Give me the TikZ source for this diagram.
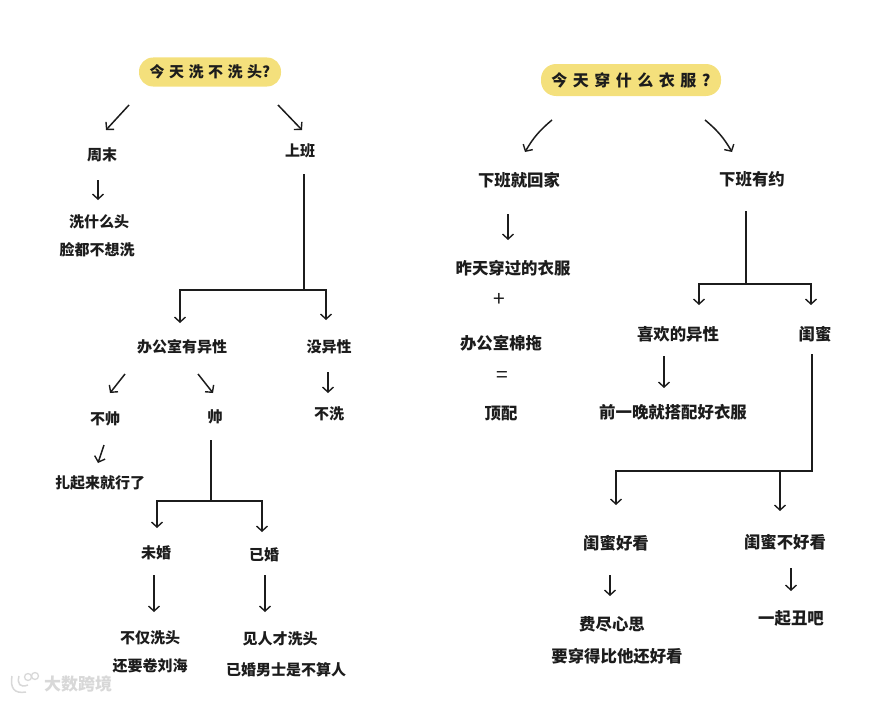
\documentclass[tikz,border=0pt]{standalone}
\usepackage{fontspec}
\usepackage{xcolor}
\setmainfont{Noto Sans CJK SC}
\usetikzlibrary{arrows.meta}
\definecolor{ink}{HTML}{1C1C1C}
\definecolor{pill}{HTML}{F4E07C}
\definecolor{wm}{HTML}{D8D8D8}
\tikzset{
  lab/.style={inner sep=0pt,text=ink,font=\fontsize{15}{15}\selectfont\bfseries},
  labr/.style={lab,font=\fontsize{16.4}{16.4}\selectfont\bfseries},
  sym/.style={inner sep=0pt,text=ink,font=\fontsize{21}{21}\selectfont},
  pillbox/.style={fill=pill,rounded corners=14pt,inner sep=0pt,text=ink,minimum width=142pt,minimum height=29pt,font=\fontsize{15}{15}\selectfont\bfseries},
  arr/.style={draw=ink,line width=1.5pt,-{Straight Barb[length=5pt,width=11pt,line width=1.4pt]}},
  stem/.style={draw=ink,line width=1.5pt},
}
\newcommand{\off}[3]{([shift={(#2,#3)}]#1.center)}
\newcommand{\spA}{\kern4.5pt}
\newcommand{\spB}{\kern5.5pt}
\begin{document}
\begin{tikzpicture}[x=1pt,y=-1pt]
\useasboundingbox (0,0) rectangle (869,701);
% left tree
\node[pillbox] (q1) at (210,72) {今\spA 天\spA 洗\spA 不\spA 洗\spA 头?};
\node[lab] (zm) at (102,155) {周末};
\node[lab] (sb) at (300,151) {上班};
\node[lab] (xs) at (99,222) {洗什么头};
\node[lab] (lian) at (97,250) {脸都不想洗};
\node[lab] (office) at (182,347) {办公室有异性};
\node[lab] (noopp) at (329,347) {没异性};
\node[lab] (bs) at (105,419) {不帅};
\node[lab] (sh) at (215,417) {帅};
\node[lab] (bx) at (329,414) {不洗};
\node[lab] (zq) at (100,483) {扎起来就行了};
\node[lab] (wh) at (156,553) {未婚};
\node[lab] (yh) at (264,555) {已婚};
\node[lab] (bj) at (150,638) {不仅洗头};
\node[lab] (hy) at (150,666) {还要卷刘海};
\node[lab] (jr) at (280,639) {见人才洗头};
\node[lab] (yn) at (286,670) {已婚男士是不算人};
\coordinate (hubA) at (304,290);
\coordinate (hubB) at (211,501);
\draw[arr] \off{q1}{-81}{33} -- \off{zm}{4}{-25};
\draw[arr] \off{q1}{68}{33} -- \off{sb}{2}{-21};
\draw[arr] \off{zm}{-4}{25} -- \off{xs}{-1}{-22};
\draw[stem] \off{sb}{4}{23} -- (hubA);
\draw[arr] (hubA) -| \off{office}{-2}{-24};
\draw[arr] (hubA) -| \off{noopp}{-3}{-27};
\draw[arr] \off{office}{-57}{27} -- \off{bs}{5}{-26};
\draw[arr] \off{office}{16}{27} -- \off{sh}{-2}{-24};
\draw[arr] \off{noopp}{-1}{25} -- \off{bx}{-1}{-21};
\draw[arr] \off{bs}{-1}{26} -- \off{zq}{-2}{-20};
\draw[stem] \off{sh}{-4}{23} -- (hubB);
\draw[arr] (hubB) -| \off{wh}{1}{-25};
\draw[arr] (hubB) -| \off{yh}{-2}{-23};
\draw[arr] \off{wh}{-2}{22} -- \off{bj}{4}{-26};
\draw[arr] \off{yh}{1}{20} -- \off{jr}{-15}{-27};
% right tree
\node[pillbox,minimum width=180pt,minimum height=32pt,rounded corners=15pt,font=\fontsize{16}{16}\selectfont\bfseries] (q2) at (631,80) {今\spB 天\spB 穿\spB 什\spB 么\spB 衣\spB 服\spB ?};
\node[labr] (xj) at (519,180) {下班就回家};
\node[labr] (xy) at (752,179) {下班有约};
\node[labr] (zt) at (513,268) {昨天穿过的衣服};
\node[sym] (plus) at (499,300) {+};
\node[labr] (mt) at (501,343) {办公室棉拖};
\node[sym] (eq) at (502,377) {=};
\node[labr] (dp) at (501,414) {顶配};
\node[labr] (xh) at (678,334) {喜欢的异性};
\node[labr] (gm) at (815,334) {闺蜜};
\node[labr] (qy) at (673,412) {前一晚就搭配好衣服};
\node[labr] (gh) at (616,543) {闺蜜好看};
\node[labr] (gb) at (785,542) {闺蜜不好看};
\node[labr] (fj) at (612,624) {费尽心思};
\node[labr] (yc) at (617,656) {要穿得比他还好看};
\node[labr] (yq) at (791,618) {一起丑吧};
\coordinate (hubC) at (746,284);
\coordinate (hubD) at (812,471);
\coordinate (hubE) at (780,471);
\draw[arr] ([shift={(-79,40)}]q2.center) to[bend right=10] ([shift={(6,-28)}]xj.center);
\draw[arr] ([shift={(74,40)}]q2.center) to[bend left=10] ([shift={(-20,-27)}]xy.center);
\draw[arr] \off{xj}{-11}{34} -- \off{zt}{-5}{-28};
\draw[stem] \off{xy}{-6}{32} -- (hubC);
\draw[arr] (hubC) -| \off{xh}{21}{-29};
\draw[arr] (hubC) -| \off{gm}{-4}{-29};
\draw[arr] \off{xh}{-14}{22} -- \off{qy}{-9}{-24};
\draw[stem] \off{gm}{-3}{20} -- (hubD) -- (hubE);
\draw[arr] (hubE) -| \off{gh}{0}{-38};
\draw[arr] (hubE) -- \off{gb}{-5}{-31};
\draw[arr] \off{gh}{-6}{32} -- \off{fj}{-2}{-28};
\draw[arr] \off{gb}{6}{26} -- \off{yq}{0}{-27};
% watermark
\node[inner sep=0pt,text=wm,font=\fontsize{17}{17}\selectfont\bfseries] (wmt) at (78,684) {大数跨境};
\draw[wm,line width=1.5pt] (12,676) .. controls (10,688) and (14,694) .. (26,692);
\draw[wm,line width=1.5pt] (19,676) .. controls (17,684) and (20,688) .. (28,685);
\draw[wm,line width=1.3pt] (28,677) circle (3.5);
\draw[wm,line width=1.3pt] (35,676) circle (3.5);
\end{tikzpicture}
\end{document}
